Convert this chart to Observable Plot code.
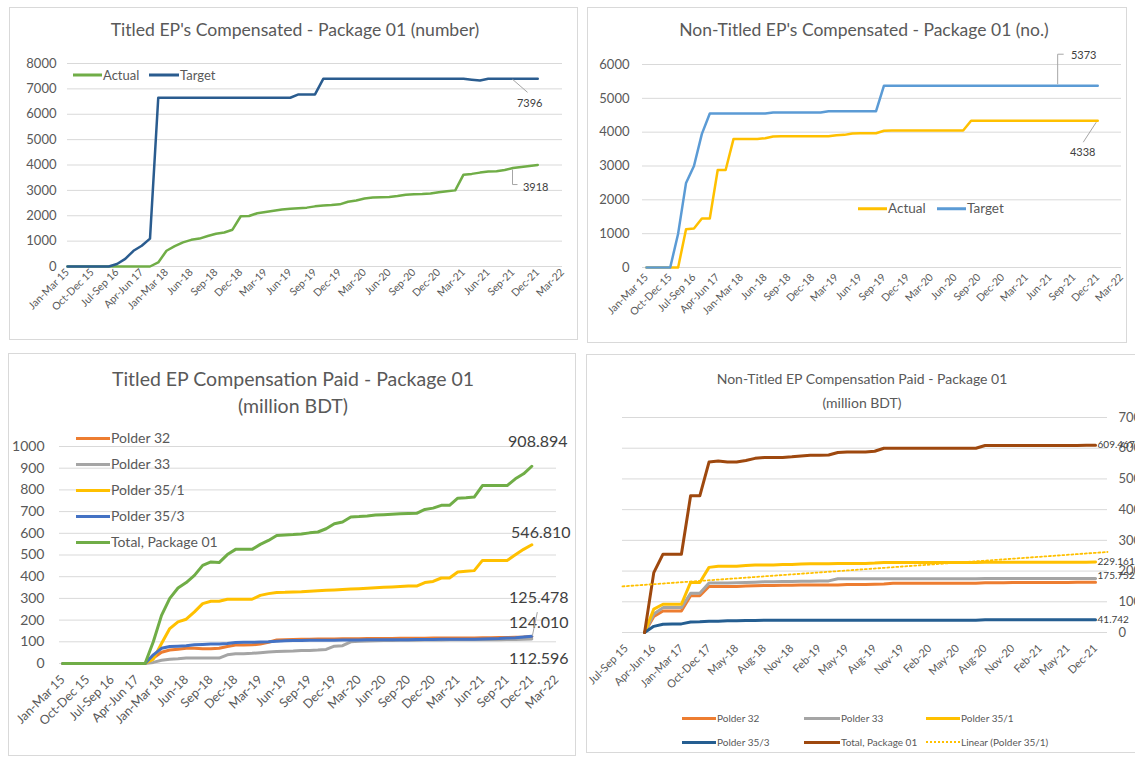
<!DOCTYPE html>
<html><head><meta charset="utf-8">
<script src="https://cdn.jsdelivr.net/npm/d3@7"></script>
<script src="https://cdn.jsdelivr.net/npm/@observablehq/plot@0.6"></script>
<style>
body{margin:0;background:#fff;}
#root{position:relative;width:1135px;height:757px;overflow:hidden;background:#fff;font-family:Lato,'Open Sans','DejaVu Sans',sans-serif;}
.box{position:absolute;border:1px solid #D9D9D9;box-sizing:border-box;}
.title{position:absolute;color:#595959;white-space:nowrap;transform:translate(-50%,-50%);line-height:1;}
.lg{position:absolute;color:#595959;white-space:nowrap;display:flex;align-items:center;transform:translateY(-50%);line-height:1;}
.sw{display:inline-block;margin-right:1px;}
.wrap{position:absolute;}
</style></head><body><div id="root"></div>
<script>
// ---------------- DATA ----------------
const xLabelsPkg = ["Jan-Mar 15","Oct-Dec 15","Jul-Sep 16","Apr-Jun 17","Jan-Mar 18","Jun-18","Sep-18","Dec-18","Mar-19","Jun-19","Sep-19","Dec-19","Mar-20","Jun-20","Sep-20","Dec-20","Mar-21","Jun-21","Sep-21","Dec-21","Mar-22"];
const xLabelsNT = ["Jul-Sep 15","Apr-Jun 16","Jan-Mar 17","Oct-Dec 17","May-18","Aug-18","Nov-18","Feb-19","May-19","Aug-19","Nov-19","Feb-20","May-20","Aug-20","Nov-20","Feb-21","May-21","Dec-21"];

// Titled EP's compensated (number)
const titledActual = [0,0,0,0,0,0,0,0,0,0,0,
  160,620,800,950,1050,1100,1200,1290,1340,1450,
  1980,1990,2100,2150,2200,2250,2280,2300,2320,2370,
  2400,2420,2450,2550,2600,2680,2720,2730,2740,2780,
  2830,2850,2860,2880,2930,2970,3000,3620,3650,3700,
  3740,3750,3800,3880,3920,3960,4000];
const titledTarget = [0,0,0,0,0,0,100,300,620,820,1100,
  6650,6650,6650,6650,6650,6650,6650,6650,6650,6650,6650,6650,6650,6650,6650,6650,6650,
  6780,6780,6780,
  7396,7396,7396,7396,7396,7396,7396,7396,7396,7396,7396,7396,7396,7396,7396,7396,7396,7396,
  7360,7330,
  7396,7396,7396,7396,7396,7396,7396];
const titledActualLabel = "3918";
const titledTargetLabel = "7396";

// Non-titled EP's compensated (no.)
const nonTitledActual = [0,0,0,0,0,1130,1150,1450,1450,2880,2880,
  3800,3800,3800,3800,3820,3870,
  3880,3880,3880,3880,3880,3880,3880,3910,3920,3960,3970,3970,3970,4040,
  4050,4050,4050,4050,4050,4050,4050,4050,4050,4050,
  4338,4338,4338,4338,4338,4338,4338,4338,4338,4338,4338,4338,4338,4338,4338,4338,4338];
const nonTitledTarget = [0,0,0,0,1000,2500,3000,3950,
  4550,4550,4550,4550,4550,4550,4550,4550,
  4580,4580,4580,4580,4580,4580,4580,
  4620,4620,4620,4620,4620,4620,4620,
  5373,5373,5373,5373,5373,5373,5373,5373,5373,5373,5373,5373,5373,5373,
  5373,5373,5373,5373,5373,5373,5373,5373,5373,5373,5373,5373,5373,5373];
const nonTitledActualLabel = "4338";
const nonTitledTargetLabel = "5373";

// Titled EP compensation paid (million BDT)
const paidNames = ["Polder 32","Polder 33","Polder 35/1","Polder 35/3","Total, Package 01"];
const paidPolder32 = [0,0,0,0,0,0,0,0,0,0,0,
  25,52,62,66,70,70,68,68,70,78,
  85,85,86,90,98,108,110,111,112,112,
  113,113,113,114,114,114,115,115,115,115,
  116,116,116,116,117,117,117,118,118,118,
  119,119,120,120,121,122,124];
const paidPolder33 = [0,0,0,0,0,0,0,0,0,0,0,
  5,15,20,22,25,25,25,25,25,40,
  45,45,47,50,53,55,57,58,60,60,
  62,65,80,82,100,102,104,105,106,106,
  107,107,107,108,108,108,109,109,109,110,
  110,110,110,111,111,112,112.6];
const paidPolder351 = [0,0,0,0,0,0,0,0,0,0,0,
  20,92,161,192,204,238,276,287,287,296,
  296,296,296,314,322,327,328,330,331,333,
  335,337,339,341,343,345,347,349,351,353,
  355,357,357,373,378,394,394,422,425,428,
  475,475,475,475,501,526,547];
const paidPolder353 = [0,0,0,0,0,0,0,0,0,0,0,
  40,70,78,80,82,86,88,90,90,92,
  97,98,98,99,100,103,105,106,106,107,
  107,107,107,108,108,108,109,109,110,110,
  110,110,111,111,111,112,112,112,112,112,
  113,114,115,117,119,122,125.5];
const paidTotal = [0,0,0,0,0,0,0,0,0,0,0,
  100,222,300,348,373,406,452,468,465,502,
  526,526,526,549,567,590,592,594,597,602,
  606,621,644,652,675,677,680,684,686,688,
  690,691,692,710,716,729,729,762,764,767,
  820,820,820,820,851,874,909];
const paidLabels = ["124.010","112.596","546.810","125.478","908.894"];

// Non-titled EP compensation paid (million BDT)
const ntNames = ["Polder 32","Polder 33","Polder 35/1","Polder 35/3","Total, Package 01","Linear (Polder 35/1)"];
const ntPolder32 = [null,null,0,52,70,70,70,120,120,150,
  150,150,150,151,152,153,153,154,154,155,
  155,155,155,155,156,156,156,157,158,160,
  160,160,160,160,160,160,160,160,160,162,
  162,162,163,163,163,163,163,163,163,164,
  164,164];
const ntPolder33 = [null,null,0,60,81,81,81,128,128,161,
  161,161,162,163,164,165,165,166,166,167,
  167,168,168,175,175,175,175,175,175,175,
  175,175,175,175,175,175,175,175,175,175.5,
  175.5,175.5,175.5,175.5,175.6,175.6,175.6,175.7,175.7,175.7,
  175.75,175.75];
const ntPolder351 = [null,null,0,76,92,92,92,163,163,212,
  216,216,216,218,220,220,220,221,221,223,
  224,224,224,225,225,225,225,226,228,228,
  228,228,228,228,228,228,228,228,228,229,
  229,229,229,229,229,229,229,229,229,229,
  229,229.2];
const ntPolder353 = [null,null,0,20,27,28,28,34,35,37,
  37,38,38,39,39,40,40,40,40,40,
  40,40,40,40,40,40,40,40,40,40,
  40,40,40,40,40,40,40,40,40,41.5,
  41.5,41.5,41.5,41.6,41.6,41.6,41.7,41.7,41.7,41.7,
  41.74,41.74];
const ntTotal = [null,null,0,195,255,255,255,445,445,555,
  558,555,555,560,567,570,570,570,572,575,
  577,577,578,586,588,588,588,590,600,600,
  600,600,600,600,600,600,600,600,600,609,
  609,609,609,609,609,609,609,609,609,609,
  609.5,609.5];
const ntLabels = {total:"609.467", p351:"229.161", p33:"175.752", p353:"41.742"};

// ---------------- STYLE / HELPERS ----------------
const FONT = "Lato, 'Open Sans', 'DejaVu Sans', sans-serif";
const GRID = "#D9D9D9", TXT = "#595959", LBL = "#404040";
const C = {green:"#70AD47", navy:"#2A5C8F", gold:"#FFC000", sky:"#5B9BD5",
  orange:"#ED7D31", gray:"#A5A5A5", blue:"#4472C4", dblue:"#255E91", brown:"#9E480E"};
const root = document.getElementById("root");
const X = (d, i) => i, Y = d => d;

function box(l, t, r, b){const d=document.createElement("div");d.className="box";
  Object.assign(d.style,{left:l+"px",top:t+"px",width:(r-l)+"px",height:(b-t)+"px"});root.appendChild(d);}
function title(text, cx, cy, size){const d=document.createElement("div");d.className="title";d.textContent=text;
  Object.assign(d.style,{left:cx+"px",top:cy+"px",fontSize:size+"px"});root.appendChild(d);}
function place(svg, l, t, w){const d=document.createElement("div");d.className="wrap";
  Object.assign(d.style,{left:l+"px",top:t+"px",width:w+"px"});d.appendChild(svg);root.appendChild(d);}
function legendItem(text, color, x, y, swW, size, dotted){
  const d=document.createElement("div");d.className="lg";
  Object.assign(d.style,{left:x+"px",top:y+"px",fontSize:size+"px"});
  const s=document.createElement("span");s.className="sw";s.style.width=swW+"px";
  if(dotted){s.style.borderTop="2px dotted "+color;s.style.height="0px";}
  else{s.style.height="3px";s.style.background=color;}
  d.appendChild(s);const t=document.createElement("span");t.textContent=text;d.appendChild(t);root.appendChild(d);}
function leader(plot, xv, yv, pts){
  const px=plot.scale("x").apply(xv), py=plot.scale("y").apply(yv);
  d3.select(plot).append("path").attr("d",d3.line()(pts.map(([a,b])=>[px+a,py+b])))
    .attr("fill","none").attr("stroke","#A6A6A6").attr("stroke-width",1);
}
const baseStyle = {fontFamily:FONT,color:TXT,background:"transparent",overflow:"visible",maxWidth:"none"};
const last = a => a.length-1;

// ---------------- PANEL 1 ----------------
{
  const L=9,T=7,W=569,H=333;
  box(L,T,L+W,T+H);
  title("Titled EP's Compensated - Package 01 (number)",295,30,17.6);
  const yt=d3.range(0,8001,1000);
  const p=Plot.plot({width:W,height:H,marginLeft:58,marginRight:16,marginTop:56,marginBottom:74,
    style:baseStyle,x:{domain:[0,60],axis:null},y:{domain:[0,8000],axis:null},
    marks:[
      Plot.gridY(yt,{stroke:GRID,strokeOpacity:1}),
      Plot.axisY(yt,{tickSize:0,tickPadding:11,fontSize:13,tickFormat:d=>String(d),label:null}),
      Plot.axisX(d3.range(0,61,3),{tickSize:0,tickPadding:4,tickRotate:-45,fontSize:10.5,tickFormat:d=>xLabelsPkg[d/3],label:null}),
      Plot.line(titledActual,{x:X,y:Y,stroke:C.green,strokeWidth:2.5,strokeLinejoin:"round"}),
      Plot.line(titledTarget,{x:X,y:Y,stroke:C.navy,strokeWidth:2.5,strokeLinejoin:"round"}),
      Plot.text([last(titledTarget)],{x:d=>d,y:d=>titledTarget[d],text:()=>titledTargetLabel,dx:-8,dy:25,fontSize:11,fill:LBL}),
      Plot.text([last(titledActual)],{x:d=>d,y:d=>titledActual[d],text:()=>titledActualLabel,dx:-2,dy:22,fontSize:11,fill:LBL})
    ]});
  leader(p,54,titledTarget[54],[[0,1],[15,14]]);
  leader(p,54,titledActual[54],[[0,2],[0,17],[5,17]]);
  place(p,L,T,W);
  legendItem("Actual",C.green,73,75,29,13);
  legendItem("Target",C.navy,149,75,30,13);
}

// ---------------- PANEL 2 ----------------
{
  const L=587,T=7,W=540,H=336;
  box(L,T,L+W,T+H);
  title("Non-Titled EP's Compensated - Package 01 (no.)",864,30,17.5);
  const yt=d3.range(0,6001,1000);
  const p=Plot.plot({width:W,height:H,marginLeft:55,marginRight:6,marginTop:57,marginBottom:76,
    style:baseStyle,x:{domain:[-0.5,60],axis:null},y:{domain:[0,6000],axis:null},
    marks:[
      Plot.gridY(yt,{stroke:GRID,strokeOpacity:1}),
      Plot.axisY(yt,{tickSize:0,tickPadding:13,fontSize:13,tickFormat:d=>String(d),label:null}),
      Plot.axisX(d3.range(0,61,3),{tickSize:0,tickPadding:8,tickRotate:-45,fontSize:10.5,tickFormat:d=>xLabelsPkg[d/3],label:null}),
      Plot.line(nonTitledActual,{x:X,y:Y,stroke:C.gold,strokeWidth:2.5,strokeLinejoin:"round"}),
      Plot.line(nonTitledTarget,{x:X,y:Y,stroke:C.sky,strokeWidth:2.5,strokeLinejoin:"round"}),
      Plot.text([last(nonTitledTarget)],{x:d=>d,y:d=>nonTitledTarget[d],text:()=>nonTitledTargetLabel,dx:-14,dy:-30,fontSize:11,fill:LBL}),
      Plot.text([last(nonTitledActual)],{x:d=>d,y:d=>nonTitledActual[d],text:()=>nonTitledActualLabel,dx:-15,dy:32,fontSize:11,fill:LBL})
    ]});
  leader(p,52,nonTitledTarget[52],[[0,-1],[0,-31],[6,-31]]);
  leader(p,last(nonTitledActual),nonTitledActual[last(nonTitledActual)],[[-1,2],[-14,22]]);
  place(p,L,T,W);
  legendItem("Actual",C.gold,858,209,29,13.5);
  legendItem("Target",C.sky,937,209,29,13.5);
}

// ---------------- PANEL 3 ----------------
{
  const L=8,T=353,W=568,H=403;
  box(L,T,L+W,T+H);
  title("Titled EP Compensation Paid - Package 01",293,379,19.5);
  title("(million BDT)",293,406,19.5);
  const yt=d3.range(0,1001,100);
  const series=[paidPolder32,paidPolder33,paidPolder351,paidPolder353,paidTotal];
  const cols=[C.orange,C.gray,C.gold,C.blue,C.green];
  const offs=[[7,-14],[7,20],[9,-12],[7,-38],[6,-24]];
  const p=Plot.plot({width:W,height:H,marginLeft:51,marginRight:20,marginTop:93,marginBottom:93,
    style:baseStyle,x:{domain:[-0.4,60],axis:null},y:{domain:[0,1000],axis:null},
    marks:[
      Plot.gridY(yt,{stroke:GRID,strokeOpacity:1}),
      Plot.axisY(yt,{tickSize:0,tickPadding:15,fontSize:14,tickFormat:d=>String(d),label:null}),
      Plot.axisX(d3.range(0,61,3),{tickSize:0,tickPadding:14,tickRotate:-45,fontSize:12.5,tickFormat:d=>xLabelsPkg[d/3],label:null}),
      ...series.map((s,k)=>Plot.line(s,{x:X,y:Y,stroke:cols[k],strokeWidth:3,strokeLinejoin:"round"})),
      ...series.map((s,k)=>Plot.text([last(s)],{x:d=>d,y:d=>s[d],text:()=>paidLabels[k],dx:offs[k][0],dy:offs[k][1],fontSize:16,fill:LBL}))
    ]});
  leader(p,last(paidPolder32),paidPolder32[last(paidPolder32)],[[1,0],[6,-24]]);
  place(p,L,T,W);
  paidNames.forEach((n,k)=>legendItem(n,cols[k],76,438+k*26,34,14));
}

// ---------------- PANEL 4 ----------------
{
  const L=586,T=354,W=569,H=399;
  box(L,T,L+W+20,T+H);
  title("Non-Titled EP Compensation Paid - Package 01",862,379,14);
  title("(million BDT)",862,403,14);
  const yt=d3.range(0,701,100);
  const xDom=[-0.4,52.3];
  const series=[ntPolder32,ntPolder33,ntPolder351,ntPolder353,ntTotal];
  const cols=[C.orange,C.gray,C.gold,C.dblue,C.brown];
  // least-squares trend of Polder 35/1 (as Excel's linear trendline)
  const pts=ntPolder351.map((v,i)=>[i,v]).filter(d=>d[1]!=null);
  const mx=d3.mean(pts,d=>d[0]), my=d3.mean(pts,d=>d[1]);
  const slope=d3.sum(pts,d=>(d[0]-mx)*(d[1]-my))/d3.sum(pts,d=>(d[0]-mx)**2);
  const trend=xDom.map(x=>({x,y:my+slope*(x-mx)}));
  const p=Plot.plot({width:W,height:H,marginLeft:36,marginRight:48,marginTop:63,marginBottom:121,
    style:baseStyle,x:{domain:xDom,axis:null},y:{domain:[0,700],axis:null},
    marks:[
      Plot.gridY(yt,{stroke:GRID,strokeOpacity:1}),
      Plot.axisY(yt,{anchor:"right",tickSize:0,tickPadding:11,fontSize:13,tickFormat:d=>String(d),label:null}),
      Plot.axisX(d3.range(0,52,3),{tickSize:0,tickPadding:14,tickRotate:-45,fontSize:11,tickFormat:d=>xLabelsNT[d/3],label:null}),
      ...series.map((s,k)=>Plot.line(s,{x:X,y:Y,stroke:cols[k],strokeWidth:3,strokeLinejoin:"round"})),
      Plot.line(trend,{x:"x",y:"y",stroke:C.gold,strokeWidth:1.8,strokeDasharray:"2,2.5"}),
      Plot.text([last(ntTotal)],{x:d=>d,y:d=>ntTotal[d],text:()=>ntLabels.total,dx:2,textAnchor:"start",fontSize:10,fill:LBL}),
      Plot.text([last(ntPolder351)],{x:d=>d,y:d=>ntPolder351[d],text:()=>ntLabels.p351,dx:2,textAnchor:"start",fontSize:10,fill:LBL}),
      Plot.text([last(ntPolder33)],{x:d=>d,y:d=>ntPolder33[d],text:()=>ntLabels.p33,dx:2,dy:-3,textAnchor:"start",fontSize:10,fill:LBL}),
      Plot.text([last(ntPolder353)],{x:d=>d,y:d=>ntPolder353[d],text:()=>ntLabels.p353,dx:2,textAnchor:"start",fontSize:10,fill:LBL})
    ]});
  place(p,L,T,W);
  const lx=[682,804,926], ly=[718,742];
  const lcols=[C.orange,C.gray,C.gold,C.dblue,C.brown,C.gold];
  ntNames.forEach((n,k)=>legendItem(n,lcols[k],lx[k%3],ly[Math.floor(k/3)],k===1||k===4?36:34,10,k===5));
}
</script></body></html>
